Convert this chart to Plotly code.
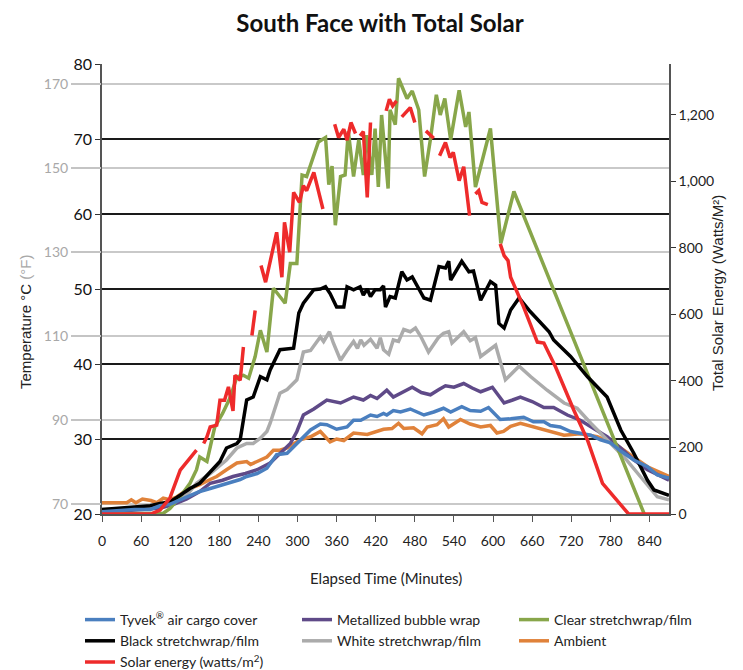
import plotly.graph_objects as go

# ---------------- data ----------------
t_ambient = [0, 10, 20, 30, 38, 45, 52, 62, 75, 84, 94, 104, 115, 130, 150, 166, 176, 191, 207, 222, 228, 238, 253, 263, 273, 284, 304, 320, 335, 350, 360, 371, 386, 407, 420, 432, 445, 455, 463, 478, 491, 499, 514, 524, 532, 550, 565, 581, 596, 606, 616, 627, 642, 662, 683, 709, 734, 760, 786, 811, 837, 870]
ambient = [21.5, 21.5, 21.5, 21.5, 21.5, 21.9, 21.5, 22.0, 21.8, 21.5, 22.1, 21.9, 22.3, 23.2, 23.9, 24.6, 25.0, 25.9, 26.8, 27.0, 26.6, 27.0, 27.6, 28.5, 28.5, 28.8, 29.9, 30.3, 31.0, 29.6, 30.0, 29.8, 30.8, 30.6, 31.0, 31.3, 31.4, 32.1, 31.4, 31.5, 30.7, 31.6, 31.9, 32.7, 31.6, 32.6, 32.0, 31.6, 31.8, 30.8, 31.0, 31.7, 32.1, 31.6, 31.1, 30.5, 30.7, 30.3, 29.4, 27.9, 26.3, 25.0]

t_tyvek = [0, 28, 50, 74, 89, 104, 120, 135, 150, 166, 181, 197, 212, 222, 238, 253, 268, 284, 304, 320, 335, 345, 360, 376, 386, 397, 412, 422, 432, 437, 447, 458, 473, 494, 509, 524, 535, 552, 565, 581, 593, 611, 627, 647, 662, 678, 688, 703, 719, 734, 750, 765, 780, 796, 816, 837, 852, 870]
tyvek = [20.3, 20.5, 20.6, 20.6, 21.1, 21.3, 21.9, 22.5, 23.0, 23.4, 23.8, 24.3, 24.6, 25.0, 25.4, 26.1, 27.9, 28.1, 29.9, 31.2, 32.0, 31.9, 31.3, 31.6, 32.5, 32.5, 33.2, 33.0, 33.4, 33.2, 33.8, 33.6, 34.0, 33.2, 33.6, 34.1, 33.6, 34.3, 33.8, 33.7, 34.2, 32.6, 32.7, 32.9, 32.3, 32.3, 31.8, 31.6, 31.0, 30.7, 30.5, 29.9, 29.5, 28.4, 27.2, 26.3, 25.2, 24.8]

t_metal = [0, 30, 60, 90, 110, 130, 150, 166, 185, 201, 220, 238, 258, 273, 289, 299, 309, 325, 345, 366, 386, 401, 412, 422, 432, 437, 447, 461, 476, 490, 504, 517, 527, 540, 555, 568, 581, 599, 617, 630, 642, 660, 678, 693, 714, 734, 755, 775, 796, 816, 837, 870]
metal = [20.2, 20.4, 20.5, 20.8, 21.3, 22.0, 23.0, 24.1, 24.5, 25.0, 25.4, 25.9, 26.8, 28.1, 29.4, 31.0, 33.2, 34.0, 35.2, 34.8, 35.6, 35.2, 35.8, 35.4, 36.2, 36.5, 35.6, 36.2, 36.9, 36.2, 35.9, 36.6, 37.1, 36.9, 37.4, 36.8, 36.3, 36.9, 34.8, 35.2, 35.6, 35.0, 34.2, 34.2, 33.2, 32.5, 31.4, 30.3, 28.8, 27.2, 25.9, 24.5]

t_white = [0, 30, 60, 90, 110, 130, 145, 166, 181, 191, 207, 222, 232, 243, 253, 258, 273, 284, 299, 309, 320, 335, 340, 349, 355, 366, 376, 386, 392, 397, 402, 412, 422, 427, 432, 440, 447, 455, 463, 473, 481, 489, 501, 516, 524, 532, 537, 555, 565, 573, 581, 604, 619, 640, 658, 683, 709, 729, 750, 775, 801, 826, 852, 870]
white = [20.6, 20.7, 20.8, 21.3, 21.6, 22.5, 24.1, 25.4, 26.5, 27.2, 28.8, 29.4, 29.4, 30.1, 31.0, 32.1, 36.1, 36.6, 37.9, 41.6, 41.8, 43.6, 43.0, 44.3, 42.8, 40.5, 41.8, 43.0, 42.1, 43.2, 42.5, 43.3, 42.1, 43.5, 41.9, 41.3, 43.2, 43.0, 44.6, 44.3, 44.8, 43.7, 41.6, 43.5, 44.1, 44.3, 42.8, 44.3, 43.1, 43.5, 41.0, 42.5, 37.9, 39.7, 38.3, 36.5, 34.8, 34.1, 32.1, 29.9, 27.6, 25.0, 22.3, 21.9]

t_black = [0, 30, 50, 74, 89, 104, 120, 135, 150, 166, 181, 191, 207, 212, 222, 232, 243, 253, 258, 273, 294, 302, 309, 325, 335, 343, 350, 360, 371, 376, 386, 396, 401, 407, 412, 419, 427, 432, 435, 442, 450, 460, 468, 476, 494, 504, 517, 527, 532, 535, 552, 563, 570, 581, 596, 604, 609, 617, 627, 640, 657, 686, 693, 719, 745, 775, 796, 816, 837, 847, 870]
black = [20.6, 20.8, 20.9, 21.1, 21.4, 21.6, 22.5, 23.4, 24.1, 25.6, 27.0, 28.8, 29.4, 29.9, 35.2, 35.6, 38.3, 37.9, 39.2, 41.9, 42.1, 46.8, 48.1, 49.9, 50.0, 50.3, 49.4, 47.6, 47.6, 50.3, 49.9, 50.3, 49.2, 50.0, 49.0, 49.9, 49.9, 50.4, 47.6, 49.0, 48.8, 52.3, 51.2, 51.6, 48.8, 48.5, 53.0, 52.8, 53.7, 51.2, 53.7, 52.3, 52.4, 48.5, 51.0, 50.5, 45.4, 44.8, 47.2, 48.8, 47.0, 44.3, 43.2, 41.0, 38.3, 35.6, 31.2, 28.1, 24.5, 23.2, 22.5]

t_clear = [0, 30, 60, 90, 94, 104, 120, 135, 145, 150, 161, 173, 185, 197, 207, 217, 225, 235, 243, 253, 263, 281, 289, 299, 307, 314, 332, 343, 348, 353, 358, 366, 373, 378, 386, 394, 401, 406, 414, 419, 424, 429, 439, 442, 450, 455, 468, 476, 486, 495, 504, 513, 519, 526, 535, 548, 558, 563, 573, 596, 612, 632, 832]
clear = [20.0, 20.0, 20.0, 20.0, 20.1, 20.7, 22.3, 24.1, 25.9, 27.6, 27.0, 31.6, 33.4, 35.6, 38.3, 38.5, 38.1, 41.0, 44.5, 41.6, 50.1, 48.1, 53.4, 53.4, 65.2, 65.0, 69.6, 70.2, 63.9, 66.4, 58.5, 65.0, 65.2, 71.0, 65.0, 69.9, 65.2, 70.5, 65.2, 71.4, 63.6, 73.2, 63.4, 73.9, 71.9, 78.1, 75.4, 76.4, 73.9, 65.0, 70.0, 75.9, 73.2, 75.4, 69.9, 76.5, 71.6, 73.6, 63.6, 71.4, 56.1, 63.0, 20.0]

# solar energy (W/m2); None marks the gaps in the record
t_solar = [0, 20, 40, 60, 75, 89, 104, 120, 130, 145, 150,
           156, 161, 166, 176, 181, 188, 194, 201, 204, 212, 217, 223,
           230, 235, 240,
           244, 251, 268, 276, 280, 288, 294, 303, 309, 314, 325, 339, 348,
           357, 363, 371, 376, 382, 389, 392,
           396, 401, 407, 412, 424,
           436, 441, 446, 452, 456,
           460, 473, 480, 488,
           497, 509, 513,
           518, 527, 534, 539, 548, 555, 564, 568,
           573, 578, 583, 592, 600,
           611, 617, 623, 627, 647, 668, 678, 696, 724, 745, 768, 808, 870]
solar = [0, 0, 0, 0, 0, 12, 47, 132, 157, 192, None,
         212, 232, 262, 267, 342, 342, 382, 310, 417, 402, 502, None,
         537, 612, None,
         747, 697, 847, 712, 877, 787, 967, 937, 987, 972, 1027, 917, None,
         1172, 1132, 1157, 1124, 1177, 1144, None,
         1137, 1150, 952, 1177, None,
         1212, 1247, 1227, 1242, None,
         1194, 1222, 1177, None,
         1152, 1130, None,
         1077, 1117, 1072, 1087, 1002, 1044, 897, None,
         962, 972, 937, 930, None,
         812, 777, 762, 712, 622, 517, 514, 442, 312, 222, 92, 0, 0]

x_ticks = list(range(0, 841, 60))
c_ticks = [20, 30, 40, 50, 60, 70, 80]
f_ticks = [70, 90, 110, 130, 150, 170]
w_ticks = [0, 200, 400, 600, 800, 1000, 1200]

# ---------------- figure ----------------
# the page adds an 8px body margin, so the figure is 8px smaller and offset
FW, FH = 735, 662
fig = go.Figure()
LW = 3.5
FONT = "Lato"

def add(name, t, v, color, rank, yaxis="y"):
    fig.add_trace(go.Scatter(
        x=t, y=v, name=name, mode="lines", yaxis=yaxis,
        line=dict(color=color, width=LW), connectgaps=False,
        legendrank=rank, hoverinfo="skip"))

add("Ambient", t_ambient, ambient, "#e0823a", 6)
add("Metallized bubble wrap", t_metal, metal, "#5f4a88", 2)
add("White stretchwrap/film", t_white, white, "#ababab", 5)
add("Clear stretchwrap/film", t_clear, clear, "#88a64a", 3)
add("Black stretchwrap/film", t_black, black, "#000000", 4)
add("Tyvek<sup>®</sup> air cargo cover", t_tyvek, tyvek, "#4a7fbf", 1)
add("Solar energy (watts/m<sup>2</sup>)", t_solar, solar, "#ee2b2b", 7, yaxis="y2")
# invisible trace so the Fahrenheit axis is drawn
fig.add_trace(go.Scatter(x=[None], y=[None], yaxis="y3", showlegend=False, hoverinfo="skip"))

fig.update_layout(
    width=FW, height=FH,
    margin=dict(l=94, r=74, t=56, b=156, autoexpand=False),
    paper_bgcolor="white", plot_bgcolor="white",
    font=dict(family=FONT, size=14, color="#222"),
    showlegend=True,
    legend=dict(orientation="h", xref="paper", x=(80 - 102) / 567, xanchor="left",
                yref="paper", y=(514 - 604) / 450, yanchor="top",
                entrywidth=172, entrywidthmode="pixels", itemwidth=30,
                font=dict(family=FONT, size=14, color="#222"),
                bgcolor="rgba(0,0,0,0)", tracegroupgap=0),
    xaxis=dict(range=[0, 870], tickvals=x_ticks, showgrid=False, zeroline=False,
               showline=True, linecolor="#555", linewidth=1.5,
               ticks="outside", ticklen=6, tickcolor="#555", tickwidth=1.2,
               ticklabelstandoff=7, tickfont=dict(family=FONT, size=14, color="#222")),
    yaxis=dict(range=[20, 80], tickvals=c_ticks, showgrid=True, gridcolor="#1a1a1a", gridwidth=1.5,
               zeroline=False, showline=True, linecolor="#555", linewidth=1.5,
               ticks="outside", ticklen=5, tickcolor="#333", tickwidth=1.2,
               tickfont=dict(family=FONT, size=16, color="#111")),
    yaxis3=dict(range=[67.6, 174.8], tickvals=f_ticks, overlaying="y", side="left", anchor="x",
                showgrid=True, gridcolor="#c9c9c9", gridwidth=2, zeroline=False, showline=False,
                ticks="outside", ticklen=30, tickcolor="#c4c4c4", tickwidth=1.5,
                tickfont=dict(family=FONT, size=14, color="#a8a8a8")),
    yaxis2=dict(range=[0, 1353], tickvals=w_ticks, tickformat=",", overlaying="y", side="right",
                anchor="x", showgrid=False, zeroline=False, showline=True, linecolor="#555",
                linewidth=1.5, ticks="outside", ticklen=5, tickcolor="#333", tickwidth=1.2,
                tickfont=dict(family=FONT, size=14, color="#222")),
    title=dict(text="<b>South Face with Total Solar</b>", x=372/FW, xref="container", xanchor="center",
               y=1 - 16/FH, yref="container", yanchor="middle",
               font=dict(family=FONT, size=24, color="#111")),
    annotations=[
        dict(text="Temperature °C <span style='color:#a8a8a8'>(°F)</span>", xref="paper", yref="paper",
             x=(26 - 102) / 567, y=(514 - 322) / 450, xanchor="center", yanchor="middle",
             textangle=-90, showarrow=False,
             font=dict(family="Liberation Sans", size=15, color="#222")),
        dict(text="Total Solar Energy (Watts/M²)", xref="paper", yref="paper",
             x=(717 - 102) / 567, y=(514 - 293) / 450, xanchor="center", yanchor="middle",
             textangle=-90, showarrow=False,
             font=dict(family="Liberation Sans", size=15, color="#222")),
        dict(text="Elapsed Time (Minutes)", xref="paper", yref="paper",
             x=0.5, y=(514 - 578) / 450, xanchor="center", yanchor="middle",
             showarrow=False, font=dict(family=FONT, size=15, color="#222")),
    ],
)

fig.write_html("out.html")
